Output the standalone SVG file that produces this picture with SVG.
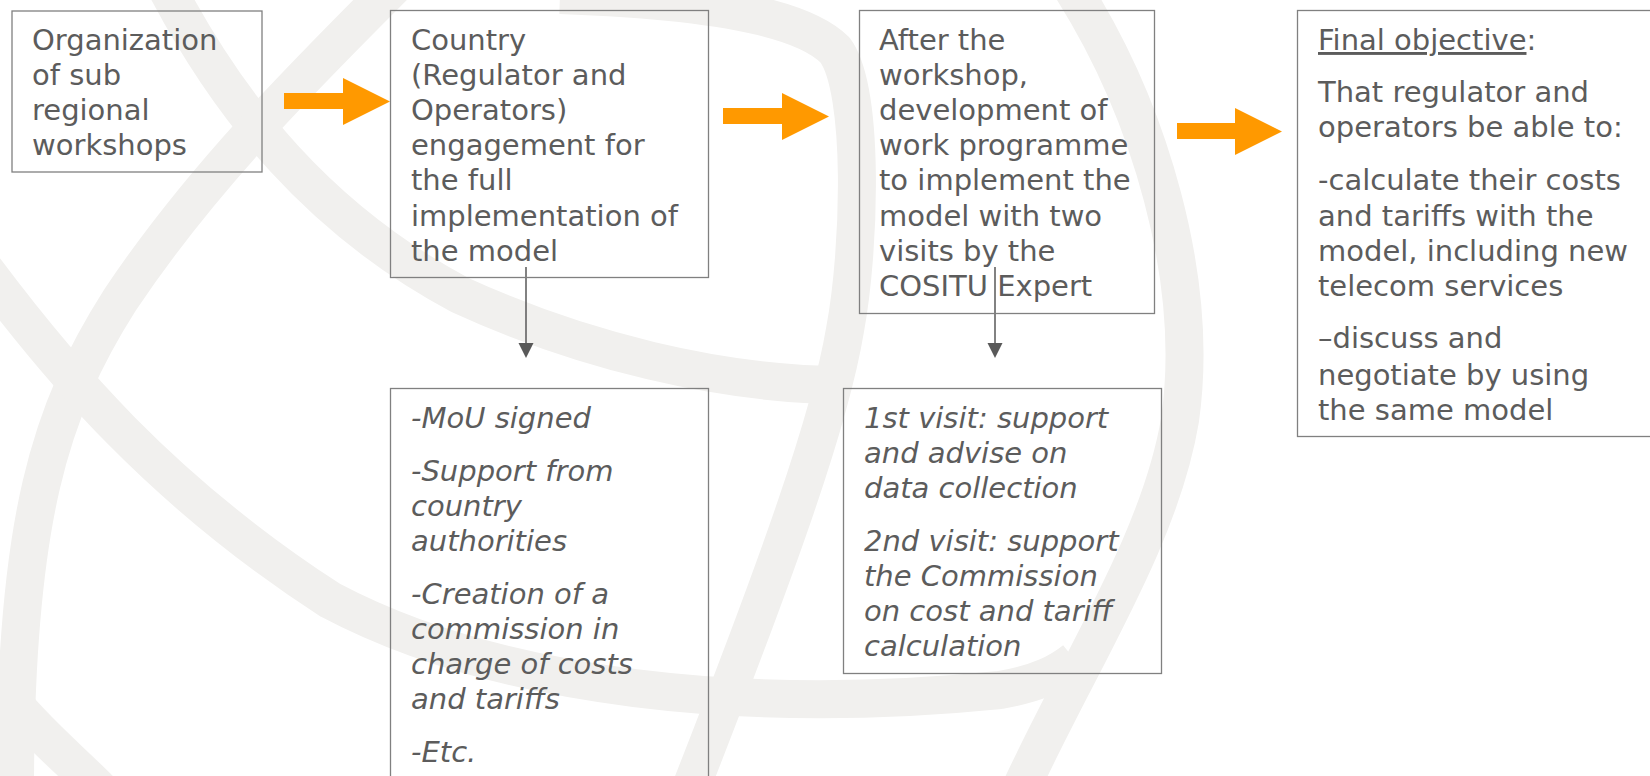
<svg xmlns="http://www.w3.org/2000/svg" width="1650" height="776" viewBox="0 0 1650 776">
<style>
.bg{fill:none;stroke:#f1f0ee;stroke-width:38;stroke-linecap:butt}
.box{fill:none;stroke:#808080;stroke-width:1.3}
.t{font-family:"DejaVu Sans","Verdana",sans-serif;font-size:29px;fill:#5c5c5c}
.i{font-style:italic}
.big{fill:#ff9900}
.con{stroke:#595959;stroke-width:1.5;fill:none}
.head{fill:#595959}
</style>
<rect width="1650" height="776" fill="#ffffff"/>
<g id="watermark">
<path class="bg" d="M165,-15 C230,110 320,220 460,295 C580,350 720,385 845,385"/>
<path class="bg" d="M395,-15 C300,80 200,180 120,300 C50,410 15,520 15,790"/>
<path class="bg" d="M-15,270 C60,370 160,490 330,600 C500,690 750,715 1000,690 C1040,683 1060,672 1075,660"/>
<path class="bg" d="M15,705 C40,735 70,760 100,790"/>
<path class="bg" d="M560,-5 C700,0 800,15 835,50 C865,90 860,250 845,330 C830,420 780,560 690,790"/>
<path class="bg" d="M1070,-15 C1150,110 1200,280 1180,420 C1160,540 1080,660 1020,790"/>
</g>
<g id="connectors">
<polygon class="big" points="284,93 343,93 343,78 390,101.5 343,125 343,109 284,109"/>
<polygon class="big" points="723,108 782,108 782,93 829,116.5 782,140 782,124 723,124"/>
<polygon class="big" points="1177,123 1235,123 1235,108 1282,131.5 1235,155 1235,139 1177,139"/>
<line class="con" x1="526" y1="267" x2="526" y2="344"/>
<polygon class="head" points="518.5,343 533.5,343 526,358"/>
<line class="con" x1="995" y1="267" x2="995" y2="344"/>
<polygon class="head" points="987.5,343 1002.5,343 995,358"/>
</g>
<g id="n1">
<rect class="box" x="12" y="11" width="250" height="161"/>
<text class="t" x="32" y="50">Organization</text>
<text class="t" x="32" y="85">of sub</text>
<text class="t" x="32" y="120">regional</text>
<text class="t" x="32" y="155">workshops</text>
</g>
<g id="n2">
<rect class="box" x="390.5" y="10.5" width="318" height="267"/>
<text class="t" x="411" y="50">Country</text>
<text class="t" x="411" y="85">(Regulator and</text>
<text class="t" x="411" y="120">Operators)</text>
<text class="t" x="411" y="155">engagement for</text>
<text class="t" x="411" y="190">the full</text>
<text class="t" x="411" y="226">implementation of</text>
<text class="t" x="411" y="261">the model</text>
</g>
<g id="n3">
<rect class="box" x="859.5" y="10.5" width="295" height="303"/>
<text class="t" x="879" y="50">After the</text>
<text class="t" x="879" y="85">workshop,</text>
<text class="t" x="879" y="120">development of</text>
<text class="t" x="879" y="155">work programme</text>
<text class="t" x="879" y="190">to implement the</text>
<text class="t" x="879" y="226">model with two</text>
<text class="t" x="879" y="261">visits by the</text>
<text class="t" x="879" y="296">COSITU Expert</text>
</g>
<g id="n4">
<rect class="box" x="1297.5" y="10.5" width="370" height="426"/>
<text class="t" x="1318" y="50"><tspan text-decoration="underline">Final objective</tspan>:</text>
<text class="t" x="1318" y="102">That regulator and</text>
<text class="t" x="1318" y="137">operators be able to:</text>
<text class="t" x="1318" y="190">-calculate their costs</text>
<text class="t" x="1318" y="226">and tariffs with the</text>
<text class="t" x="1318" y="261">model, including new</text>
<text class="t" x="1318" y="296">telecom services</text>
<text class="t" x="1318" y="348">–discuss and</text>
<text class="t" x="1318" y="385">negotiate by using</text>
<text class="t" x="1318" y="420">the same model</text>
</g>
<g id="n5">
<rect class="box" x="390.5" y="388.5" width="318" height="400"/>
<text class="t i" x="411" y="428">-MoU signed</text>
<text class="t i" x="411" y="481">-Support from</text>
<text class="t i" x="411" y="516">country</text>
<text class="t i" x="411" y="551">authorities</text>
<text class="t i" x="411" y="604">-Creation of a</text>
<text class="t i" x="411" y="639">commission in</text>
<text class="t i" x="411" y="674">charge of costs</text>
<text class="t i" x="411" y="709">and tariffs</text>
<text class="t i" x="411" y="762">-Etc.</text>
</g>
<g id="n6">
<rect class="box" x="843.5" y="388.5" width="318" height="285"/>
<text class="t i" x="864" y="428">1st visit: support</text>
<text class="t i" x="864" y="463">and advise on</text>
<text class="t i" x="864" y="498">data collection</text>
<text class="t i" x="864" y="551">2nd visit: support</text>
<text class="t i" x="864" y="586">the Commission</text>
<text class="t i" x="864" y="621">on cost and tariff</text>
<text class="t i" x="864" y="656">calculation</text>
</g>
</svg>
